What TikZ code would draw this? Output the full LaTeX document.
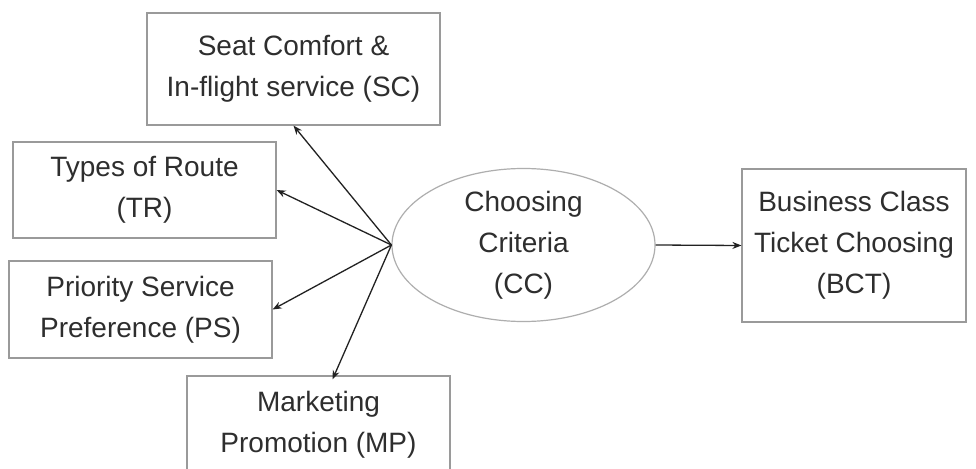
\documentclass[tikz,border=0pt]{standalone}
\usepackage{fontspec}
\setmainfont{Liberation Sans}
\usetikzlibrary{shapes.geometric,arrows.meta}
\definecolor{txt}{HTML}{2E2E2E}
\definecolor{frame}{HTML}{9A9A9A}
\definecolor{arrowc}{HTML}{222222}
\tikzset{
  lbl/.style={font=\fontsize{28}{41}\selectfont, text=txt, align=center, inner sep=0pt},
  factor/.style={lbl, draw=frame, line width=1.2pt, rectangle},
  hub/.style={lbl, draw=frame!80, line width=1.2pt, ellipse},
  link/.style={draw=arrowc, line width=1.3pt, -{Stealth[length=9pt,width=7pt]}},
}
\begin{document}
\begin{tikzpicture}[x=1pt,y=-1pt]
  \useasboundingbox (0,0) rectangle (976,468);
  \clip (0,0) rectangle (976,468);
  \fill[white] (0,0) rectangle (976,468);

  % outer factors
  \node[factor, minimum width=293pt, minimum height=112pt] (sc) at (293.5,69)
    {Seat Comfort \&\\In-flight service (SC)};
  \node[factor, minimum width=263pt, minimum height=96pt] (tr) at (144.5,190)
    {Types of Route\\(TR)};
  \node[factor, minimum width=263pt, minimum height=97pt] (ps) at (140.5,309.5)
    {Priority Service\\Preference (PS)};
  \node[factor, minimum width=263pt, minimum height=100pt, text depth=8pt] (mp) at (318.5,426)
    {Marketing\\Promotion (MP)};

  % central criteria
  \node[hub, minimum width=263pt, minimum height=153pt] (cc) at (523.5,245)
    {Choosing\\Criteria\\(CC)};

  % outcome
  \node[factor, minimum width=224pt, minimum height=153pt] (bct) at (854,245.5)
    {Business Class\\Ticket Choosing\\(BCT)};

  % connectors
  \draw[link] (cc.west) -- (sc.south);
  \draw[link] (cc.west) -- (tr.east);
  \draw[link] (cc.west) -- (ps.east);
  \draw[link] (cc.west) -- ([xshift=14pt,yshift=-4pt]mp.north);
  \draw[link] (cc.east) -- (bct.west);
\end{tikzpicture}
\end{document}
